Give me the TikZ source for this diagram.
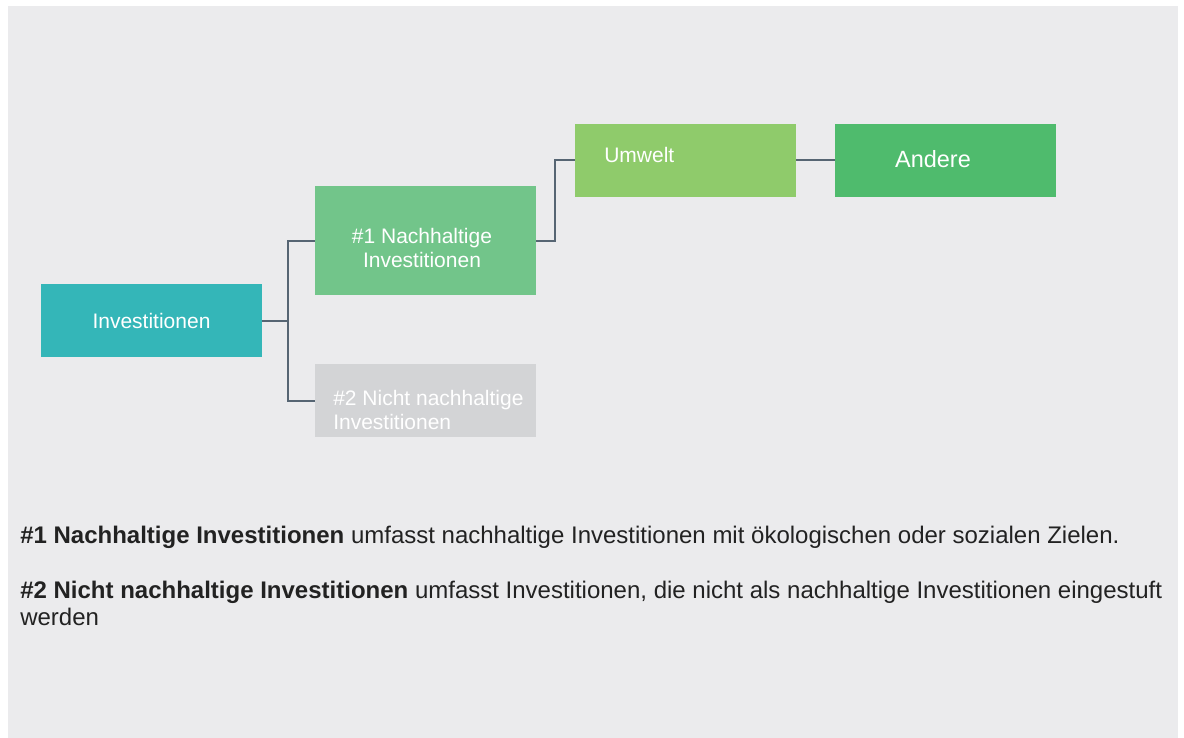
\documentclass[tikz,border=0pt]{standalone}
\usepackage{fontspec}
\setmainfont{Liberation Sans}
\definecolor{bggray}{HTML}{EBEBED}
\definecolor{tealbox}{HTML}{34B6B8}
\definecolor{sustgreen}{HTML}{72C58A}
\definecolor{envgreen}{HTML}{8FCB6B}
\definecolor{othergreen}{HTML}{4FBB6D}
\definecolor{nonsust}{HTML}{D3D4D6}
\definecolor{linkgray}{HTML}{566573}
\definecolor{txtdark}{HTML}{222222}
\begin{document}
\begin{tikzpicture}[x=0.75pt,y=-0.75pt,
    box/.style={rectangle,inner sep=0pt,minimum width=221*0.75pt,
      text=white,font=\fontsize{15.75}{18}\selectfont,align=center},
    boxtext/.style={inner sep=0pt,text=white,anchor=base west,align=left,
      font=\fontsize{15.75}{18}\selectfont},
    link/.style={draw=linkgray,line width=1.5pt},
    note/.style={inner sep=0pt,anchor=base west,align=left,text=txtdark,
      font=\fontsize{18}{20.25}\selectfont}]
  \useasboundingbox (0,0) rectangle (1184,738);
  \fill[bggray] (8,6) rectangle (1178,738);
  % boxes
  \node[box,fill=tealbox,minimum height=73*0.75pt] (inv) at (151.5,320.5) {Investitionen};
  \node[box,fill=sustgreen,minimum height=109*0.75pt] (n1) at (425.5,240.5) {};
  \node[boxtext,anchor=base,align=center] (n1text) at (422,267) {\#1 Nachhaltige\\Investitionen};
  \node[box,fill=nonsust,minimum height=73*0.75pt] (n2) at (425.5,400.5) {};
  \node[boxtext] (n2text) at (333,429) {\#2 Nicht nachhaltige\\Investitionen};
  \node[box,fill=envgreen,minimum height=73*0.75pt] (umw) at (685.5,160.5) {};
  \node[boxtext] (umwtext) at (604,162.5) {Umwelt};
  \node[box,fill=othergreen,minimum height=73*0.75pt] (and) at (945.5,160.5) {};
  \node[boxtext,anchor=base,font=\fontsize{17.6}{20}\selectfont] (andtext) at (933,167.5) {Andere};
  % connectors
  \coordinate (fork) at (288,320.5);
  \draw[link] (inv.east) -- (fork) |- (n1.west);
  \draw[link] (fork) |- (n2.west);
  \draw[link] (n1.east) -- ++(19,0) |- (umw.west);
  \draw[link] (umw.east) -- (and.west);
  % notes
  \node[note] (note1) at (20,543) {\textbf{\#1 Nachhaltige Investitionen} umfasst nachhaltige Investitionen mit ökologischen oder sozialen Zielen.};
  \node[note] (note2) at (20,625) {\textbf{\#2 Nicht nachhaltige Investitionen} umfasst Investitionen, die nicht als nachhaltige Investitionen eingestuft\\werden};
\end{tikzpicture}
\end{document}
